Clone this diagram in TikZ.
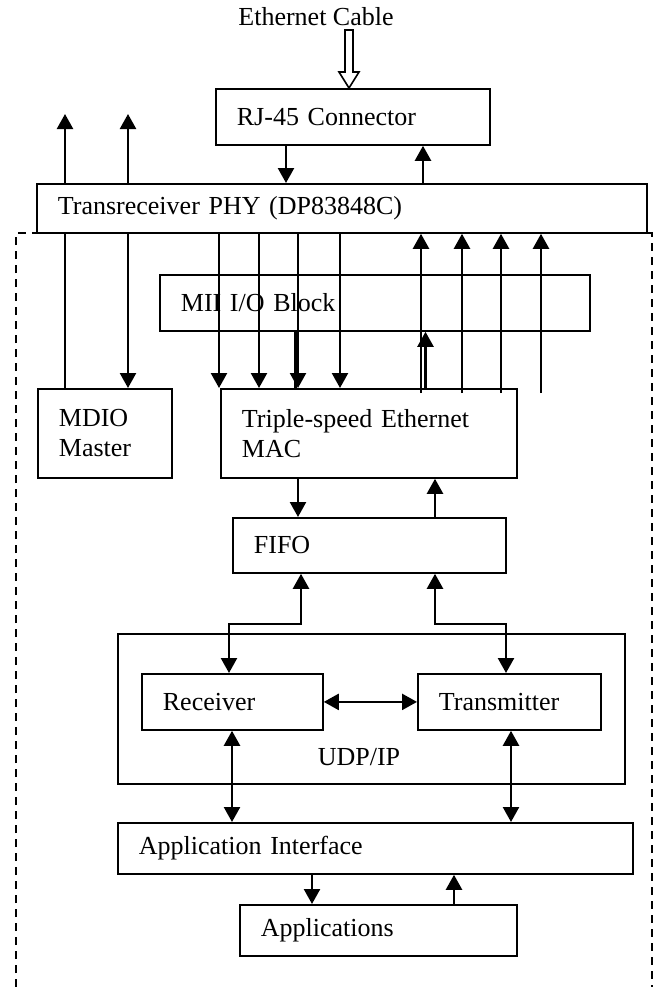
\documentclass[tikz,border=0pt]{standalone}
\usepackage{fontspec}
\setmainfont{Liberation Serif}
\usetikzlibrary{arrows.meta,calc}

\begin{document}
\begin{tikzpicture}[x=0.5pt,y=-0.5pt,>={Triangle[length=7.5pt,width=8pt]},
  font=\fontsize{13}{15}\selectfont,
  blk/.style={draw,line width=0.9pt,anchor=north west,inner xsep=10.5pt,inner ysep=0pt,align=left},
  ln/.style={line width=1.2pt}]
  \useasboundingbox (0,0) rectangle (659,987);
  \draw[line width=0.8pt,dash pattern=on 4pt off 3pt] (16,987) -- (16,233) -- (652,233) -- (652,987);

  \node (cable) at (316,17) {Ethernet Cable};
  \node[blk,text width=116pt,minimum height=28pt] (rj) at (215,88) {RJ-45 Connector};
  \node[blk,text width=284pt,minimum height=24.5pt] (phy) at (36,183) {Transreceiver PHY (DP83848C)};
  \node[blk,text width=194pt,minimum height=28pt] (mii) at (159,274) {MII I/O Block};
  \node[blk,text width=46pt,minimum height=44.5pt] (mdio) at (37,388) {MDIO\\Master};
  \node[blk,text width=127pt,minimum height=44.5pt] (mac) at (220,388) {Triple-speed Ethernet\\MAC};
  \node[blk,text width=115.5pt,minimum height=27.5pt] (fifo) at (232,517) {FIFO};
  \node[blk,minimum width=253.5pt,minimum height=75pt] (udp) at (117,633) {};
  \node (udplbl) at (359,757) {UDP/IP};
  \node[blk,text width=69.5pt,minimum height=28pt] (rx) at (141,673) {Receiver};
  \node[blk,text width=70.5pt,minimum height=28pt] (tx) at (417,673) {Transmitter};
  \node[blk,text width=236.5pt,minimum height=25.5pt] (ai) at (117,822) {Application Interface};
  \node[blk,text width=117.5pt,minimum height=25.5pt] (apps) at (239,904) {Applications};

  % cable into the connector
  \coordinate (cabletip) at (349,0 |- rj.north);
  \draw[line width=0.8pt,fill=white] ($(cabletip)+(-4,-58)$) -- ($(cabletip)+(-4,-16)$)
    -- ($(cabletip)+(-10,-16)$) -- (cabletip) -- ($(cabletip)+(10,-16)$)
    -- ($(cabletip)+(4,-16)$) -- ($(cabletip)+(4,-58)$) -- cycle;

  \draw[ln,->] (286,0 |- rj.south) -- (286,0 |- phy.north);
  \draw[ln,->] (423,0 |- phy.north) -- (423,0 |- rj.south);

  % MDIO lines
  \coordinate (mdcout) at (65,114);
  \coordinate (mdioout) at (128,114);
  \draw[ln] (65,0 |- mdio.north) -- (65,0 |- phy.south);
  \draw[ln,->] (65,0 |- phy.north) -- (mdcout);
  \draw[ln,->] (128,0 |- phy.north) -- (mdioout);
  \draw[ln,->] (128,0 |- phy.south) -- (128,0 |- mdio.north);

  % MII bus
  \foreach \x in {219,259,298,340}
    \draw[ln,->] (\x,0 |- phy.south) -- (\x,0 |- mac.north);
  \draw[ln] (295.5,0 |- mii.south) -- (295.5,0 |- mac.north);
  \foreach \x in {421,462,501,541}
    \draw[ln,->] ($(\x,0 |- mac.north)+(0,5)$) -- (\x,0 |- phy.south);
  \draw[ln,->] (425.5,0 |- mac.north) -- (425.5,0 |- mii.south);

  \draw[ln,->] (298,0 |- mac.south) -- (298,0 |- fifo.north);
  \draw[ln,->] (435,0 |- fifo.north) -- (435,0 |- mac.south);

  \draw[ln,<->] (301,0 |- fifo.south) -- ++(0,50) -| (229,0 |- rx.north);
  \draw[ln,<->] (435,0 |- fifo.south) -- ++(0,50) -| (506,0 |- tx.north);
  \draw[ln,<->] (rx.east) -- (tx.west);

  \draw[ln,<->] (232,0 |- rx.south) -- (232,0 |- ai.north);
  \draw[ln,<->] (511,0 |- tx.south) -- (511,0 |- ai.north);
  \draw[ln,->] (312,0 |- ai.south) -- (312,0 |- apps.north);
  \draw[ln,->] (454,0 |- apps.north) -- (454,0 |- ai.south);
\end{tikzpicture}
\end{document}
